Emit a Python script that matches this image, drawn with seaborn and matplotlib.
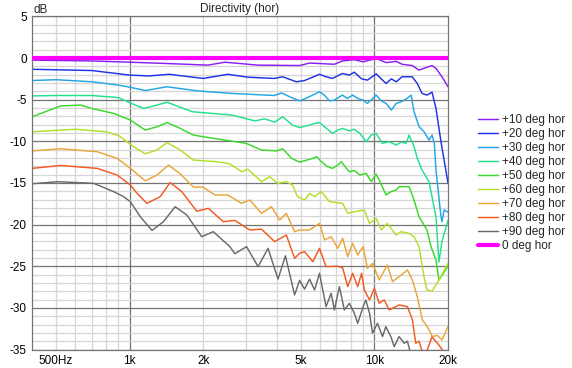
import matplotlib
matplotlib.use("Agg")
import matplotlib.pyplot as plt
import seaborn as sns
import numpy as np

# ---------------- data (frequency in Hz, level in dB) ----------------
f_p10 = [400, 700, 1000, 1400, 2090, 2450, 3340, 4950, 5440, 6870, 7400, 8280, 9000, 10180, 11170,
         12280, 12990, 14270, 15230, 16260, 17210, 17860, 18900, 20000]
db_p10 = [-0.25, -0.35, -0.5, -0.65, -0.85, -0.5, -0.85, -0.9, -0.6, -0.75, -0.35, -0.2, -0.45, -0.05, -0.55,
          -0.4, -0.75, -0.9, -1.45, -1.15, -0.9, -1.25, -2.25, -3.45]

f_p20 = [400, 700, 1000, 1200, 1450, 1700, 2000, 2520, 3040, 3900, 4220, 4800, 5190, 5970, 6350, 6740,
         7400, 7900, 8280, 8870, 9370, 10180, 10800, 11170, 11740, 12280, 12990, 14270, 14980, 15670,
         16410, 17210, 17860, 18720, 20000]
db_p20 = [-1.35, -1.5, -2.05, -2.15, -1.95, -2.2, -2.45, -1.95, -2.3, -2.45, -2.25, -2.85, -2.7, -1.95, -2.25, -2.45,
          -1.85, -2.05, -1.7, -2.5, -2.65, -1.9, -2.65, -3.05, -2.5, -2.85, -2.25, -2.25, -3.05, -4.25,
          -4.45, -4.1, -6.05, -10.05, -15.0]

f_p30 = [400, 500, 700, 900, 1000, 1160, 1420, 1900, 2620, 3900, 4180, 4510, 4950, 5240, 5600, 5970, 6250,
         6560, 6870, 7400, 7760, 8150, 8550, 8980, 9370, 10180, 10670, 11170, 11740, 12280, 12870, 13610,
         14140, 14530, 15230, 15960, 16730, 17210, 17590, 17860, 18720, 18900, 19280, 20000]
db_p30 = [-2.7, -2.6, -2.85, -3.25, -3.5, -3.9, -3.45, -3.95, -4.25, -4.5, -4.2, -4.65, -5.15, -4.85, -4.45, -4.05, -4.45,
          -5.15, -5.05, -4.45, -4.85, -4.45, -4.85, -5.05, -5.45, -4.45, -5.15, -5.45, -6.25, -5.45, -5.25, -4.85,
          -4.45, -6.45, -8.25, -8.85, -9.85, -9.25, -10.25, -13.45, -19.05, -19.65, -18.25, -18.5]

f_p40 = [400, 500, 700, 900, 1007, 1140, 1293, 1420, 1800, 2620, 3250, 3565, 3915, 4220, 4630, 4950, 5440,
         5700, 5970, 6250, 6740, 7090, 7400, 7900, 8280, 8730, 9260, 9710, 10180, 10770, 11500, 12280,
         12870, 13490, 13870, 14530, 14980, 15670, 16730, 17860, 18370, 18900, 20000]
db_p40 = [-4.55, -4.5, -4.5, -4.75, -5.4, -6.05, -5.65, -5.3, -6.45, -6.85, -7.55, -7.3, -7.7, -7.05, -8.05, -8.35, -8.05,
          -7.85, -7.75, -8.25, -9.05, -8.65, -8.45, -8.75, -8.55, -9.05, -10.05, -9.25, -9.05, -10.25, -10.05, -10.45,
          -10.1, -10.25, -9.25, -10.65, -12.05, -13.45, -14.85, -19.05, -24.5, -22.0, -19.5]

f_p50 = [400, 522, 630, 700, 860, 1007, 1158, 1293, 1420, 1609, 1821, 2000, 3000, 3460, 3990, 4220, 4590,
         4950, 5600, 5805, 6080, 6430, 6740, 7090, 7330, 7690, 7900, 8280, 8730, 9260, 9710, 10180, 10470,
         11170, 11680, 12280, 12630, 13870, 14530, 15230, 16410, 17050, 17860, 18370, 20000]
db_p50 = [-7.05, -5.75, -5.65, -6.05, -6.65, -7.45, -8.65, -8.25, -7.75, -8.45, -9.25, -9.45, -10.25, -11.05, -11.15, -10.9, -12.05,
          -12.5, -12.05, -11.85, -12.45, -13.05, -13.25, -12.85, -12.45, -13.25, -13.65, -13.5, -14.05, -13.85, -14.85, -13.95, -14.65,
          -16.45, -16.05, -15.85, -15.45, -15.45, -17.05, -19.05, -20.65, -22.65, -24.25, -26.65, -25.0]

f_p60 = [400, 600, 800, 900, 1038, 1158, 1293, 1420, 1609, 1821, 2268, 2568, 2875, 3040, 3460, 3736, 4027,
         4370, 4630, 4855, 5190, 5440, 5700, 6065, 6560, 7420, 7780, 8280, 9100, 9560, 10180, 10670, 11300,
         12280, 12870, 13870, 14530, 15230, 15960, 16410, 17210, 18370, 20000]
db_p60 = [-8.85, -8.55, -8.85, -9.3, -10.65, -11.5, -11.05, -10.15, -11.05, -12.25, -12.45, -12.7, -13.65, -13.35, -14.85, -14.25, -15.05,
          -14.85, -15.25, -16.65, -17.05, -16.25, -16.65, -16.05, -17.25, -17.45, -18.65, -18.45, -18.25, -19.85, -19.25, -20.65, -19.85,
          -21.25, -20.85, -21.05, -21.45, -22.65, -26.25, -27.85, -28.0, -26.65, -24.65]

f_p70 = [400, 522, 737, 889, 1007, 1158, 1293, 1441, 1609, 1821, 1994, 2232, 2520, 2867, 3097, 3457, 3796,
         4105, 4369, 4722, 4948, 5436, 5969, 6255, 6659, 7085, 7424, 7781, 8154, 8550, 9000, 9370, 9830,
         10470, 11300, 11860, 12630, 13650, 14310, 14980, 15710, 16460, 17260, 18080, 18900, 20000]
db_p70 = [-11.15, -10.9, -11.25, -12.05, -13.25, -14.75, -14.05, -12.85, -13.9, -15.5, -15.5, -16.45, -16.45, -17.45, -17.05, -18.65, -17.85,
          -19.45, -18.65, -20.85, -20.65, -20.65, -19.85, -21.85, -21.45, -22.85, -21.65, -23.85, -22.25, -23.65, -22.65, -25.25, -24.65,
          -26.65, -24.85, -26.85, -26.25, -25.45, -26.65, -28.65, -31.45, -32.25, -33.45, -33.3, -33.85, -32.25]

f_p80 = [400, 522, 737, 889, 1007, 1072, 1177, 1333, 1464, 1634, 1880, 2097, 2413, 2692, 3097, 3457, 3915,
         4369, 4722, 4948, 5186, 5606, 5969, 6349, 7085, 7424, 7781, 8154, 8550, 8870, 9100, 9560, 10000,
         10470, 10970, 11500, 12630, 13650, 14310, 14760, 15230, 16000, 17200, 18400, 20000]
db_p80 = [-13.25, -12.9, -13.25, -14.05, -15.25, -16.25, -17.45, -16.65, -14.95, -16.05, -18.4, -18.05, -19.65, -19.5, -20.65, -20.55, -22.05,
          -21.25, -24.05, -23.45, -23.25, -24.45, -22.85, -25.05, -25.0, -25.2, -27.45, -25.85, -27.45, -25.85, -27.85, -29.05, -27.65,
          -29.45, -29.05, -30.25, -29.65, -29.85, -31.45, -34.25, -34.0, -36.0, -33.5, -34.5, -36.0]

f_p90 = [400, 507, 714, 861, 945, 1007, 1105, 1233, 1375, 1534, 1712, 1970, 2196, 2568, 2692, 3004, 3348,
         3677, 4040, 4331, 4722, 4948, 5186, 5436, 5697, 5969, 6349, 6659, 6869, 7196, 7540, 7905, 8283,
         8550, 9000, 9230, 9560, 9830, 10300, 10800, 11140, 11680, 12050, 12630, 13240, 13650, 14500, 20000]
db_p90 = [-15.1, -14.85, -15.05, -16.05, -16.65, -17.25, -19.05, -20.7, -19.65, -17.85, -18.85, -21.45, -20.85, -22.65, -23.5, -22.65, -25.05,
          -22.85, -26.55, -23.75, -28.45, -26.7, -27.75, -26.55, -27.85, -25.85, -29.85, -28.25, -30.25, -27.45, -30.25, -29.45, -30.65,
          -31.85, -29.85, -29.05, -30.65, -33.05, -31.85, -33.45, -32.25, -33.45, -34.65, -33.45, -34.25, -34.0, -37.0, -40.0]

f_0 = [400, 20000]
db_0 = [0.0, 0.0]

labels = ["+10 deg hor", "+20 deg hor", "+30 deg hor", "+40 deg hor", "+50 deg hor",
          "+60 deg hor", "+70 deg hor", "+80 deg hor", "+90 deg hor", "0 deg hor"]
colors = ["#8a1ef5", "#1f32e8", "#22a6e6", "#22e08c", "#3ad82a",
          "#b2e028", "#eaa535", "#f25a22", "#6a6a6a", "#ff00ff"]
series = [(f_p10, db_p10), (f_p20, db_p20), (f_p30, db_p30), (f_p40, db_p40), (f_p50, db_p50),
          (f_p60, db_p60), (f_p70, db_p70), (f_p80, db_p80), (f_p90, db_p90), (f_0, db_0)]

x_tick_vals = [500, 1000, 2000, 5000, 10000, 20000]
x_tick_labels = ["500Hz", "1k", "2k", "5k", "10k", "20k"]
y_tick_vals = [5, 0, -5, -10, -15, -20, -25, -30, -35]

# ---------------- style ----------------
sns.set_style("white")
plt.rcParams["font.family"] = ["Liberation Sans", "DejaVu Sans"]
plt.rcParams["axes.unicode_minus"] = False

fig = plt.figure(figsize=(5.72, 3.68), dpi=100)
ax = fig.add_axes([32.3 / 572, 1 - 349.5 / 368, (448 - 32.3) / 572, (349.5 - 16.4) / 368])
ax.set_xscale("log")
ax.set_xlim(400, 20000)
ax.set_ylim(-35, 5)

light = "#d6d6d6"
dark = "#747474"
grid_f = [500, 600, 700, 800, 900, 1000, 2000, 3000, 4000, 5000, 6000, 7000, 8000, 9000, 10000]
for g in grid_f:
    ax.axvline(g, color=dark if g in (1000, 10000) else light, lw=0.9, zorder=0)
for d in range(-35, 6):
    ax.axhline(d, color=dark if d % 5 == 0 else light, lw=0.9, zorder=0)

for (fx, dy), lab, col in zip(series, labels, colors):
    lw = 3.0 if lab == "0 deg hor" else 1.05
    sns.lineplot(x=fx, y=dy, color=col, lw=lw, label=lab, ax=ax, sort=False,
                 estimator=None, zorder=3 if lab == "0 deg hor" else 2)

for s in ax.spines.values():
    s.set_color(dark)
    s.set_linewidth(0.9)

ax.set_xticks(x_tick_vals)
ax.set_xticklabels(x_tick_labels)
ax.xaxis.set_minor_locator(matplotlib.ticker.NullLocator())
ax.set_yticks(y_tick_vals)
ax.set_yticklabels([str(v) for v in y_tick_vals])
ax.tick_params(axis="both", length=0, labelsize=8.5, colors="black")
ax.tick_params(axis="x", pad=4)
ax.tick_params(axis="y", pad=4)
ax.set_xlabel("")
ax.set_ylabel("")

fig.text(240 / 572, 1 - 9 / 368, "Directivity (hor)", ha="center", va="center", fontsize=8.5)
fig.text(33 / 572, 1 - 10 / 368, "dB", ha="left", va="center", fontsize=8.5)

leg = ax.legend(loc="upper left", bbox_to_anchor=(478 / 572, 1 - 114 / 368),
                bbox_transform=fig.transFigure, frameon=False, fontsize=8.5,
                handlelength=1.7, handletextpad=0.3, labelspacing=0.17,
                borderpad=0, borderaxespad=0)

fig.savefig("out.png", dpi=100, facecolor="white")
